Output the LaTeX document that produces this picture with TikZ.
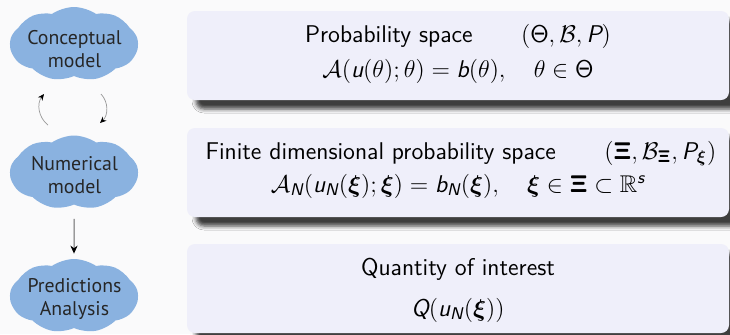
\RequirePackage{fix-cm}
\documentclass[tikz,border=0pt]{standalone}
\usepackage{amsmath,amssymb}
\usepackage[no-math]{fontspec}
\newfontfamily\cloudfont{PT Sans}
\usetikzlibrary{shapes.symbols,shadows.blur,arrows.meta}
\definecolor{bgcol}{RGB}{250,250,251}
\definecolor{boxcol}{RGB}{239,239,250}
\definecolor{cloudcol}{RGB}{138,178,224}
\definecolor{cloudtext}{RGB}{38,38,38}
\newcommand\sv[1]{\textsf{\slshape #1}}
\newcommand\bXi{\boldsymbol{\mathsf{\Xi}}}
\newcommand\bxi{\boldsymbol{\xi}}
\tikzset{
  blob/.style={cloud, cloud puffs=9, cloud puff arc=70, aspect=1.75,
    minimum width=64pt, minimum height=37pt, inner sep=0pt,
    fill=cloudcol},
  blobtext/.style={anchor=base, inner sep=0pt, text=cloudtext,
    font=\cloudfont\fontsize{9.9}{12}\selectfont},
  panel/.style={rounded corners=4pt, fill=boxcol, minimum width=271pt,
    minimum height=44.5pt, inner sep=0pt,
    blur shadow={shadow xshift=4.5pt, shadow yshift=-4.5pt,
      shadow blur radius=2pt, shadow opacity=75}},
  ptext/.style={anchor=base, inner sep=0pt,
    font=\sffamily\fontsize{12.1}{16}\selectfont},
  loop/.style={draw=black!40, line width=0.35pt,
    -{Stealth[length=3.2pt,width=2.8pt,black]}, bend left=45},
  down/.style={draw=black!60, line width=0.5pt,
    -{Stealth[length=4pt,width=3.6pt,black]}}
}
\begin{document}
\begin{tikzpicture}[x=0.5pt,y=-0.5pt]
\fill[bgcol] (0,0) rectangle (730,334);
\useasboundingbox (0,0) rectangle (730,334);
% clouds
\node[blob] (c1) at (74,44) {};
\node[blob] (c2) at (74,172.5) {};
\node[blob] (c3) at (74,296) {};
\node[blobtext] (c1a) at (74.5,44) {Conceptual};
\node[blobtext] (c1b) at (74.5,67) {model};
\node[blobtext] (c2a) at (74.5,170) {Numerical};
\node[blobtext] (c2b) at (74.5,193) {model};
\node[blobtext] (c3a) at (74.5,292) {Predictions};
\node[blobtext] (c3b) at (74.5,315) {Analysis};
% panels
\node[panel] (p1) at (458,55.5) {};
\node[panel] (p2) at (458,172.5) {};
\node[panel] (p3) at (458,288.5) {};
\node[ptext] (p1a) at (458,42) {Probability space\qquad $(\mathsf{\Theta},\mathcal{B},\sv{P})$};
\node[ptext] (p1b) at (458,77) {$\mathcal{A}(\sv{u}(\theta);\theta)=\sv{b}(\theta),\quad \theta\in\mathsf{\Theta}$};
\node[ptext] (p2a) at (461,159) {Finite dimensional probability space\qquad $(\bXi,\mathcal{B}_{\bXi},\sv{P}_{\bxi})$};
\node[ptext] (p2b) at (458,192) {$\mathcal{A}_{\sv{N}}(\sv{u}_{\sv{N}}(\bxi);\bxi)=\sv{b}_{\sv{N}}(\bxi),\quad \bxi\in\bXi\subset\mathbb{R}^{\sv{s}}$};
\node[ptext] (p3a) at (458,275) {Quantity of interest};
\node[ptext] (p3b) at (458,316) {$\sv{Q}(\sv{u}_{\sv{N}}(\bxi))$};
% connectors
\coordinate (l1) at (48,125);
\coordinate (l2) at (44,94);
\coordinate (r1) at (101,94);
\coordinate (r2) at (100,123);
\draw[loop] (l1) to (l2);
\draw[loop] (r1) to (r2);
\draw[down, shorten <=7pt, shorten >=2.5pt] (c2.south) -- (c3.north);
\end{tikzpicture}
\end{document}
